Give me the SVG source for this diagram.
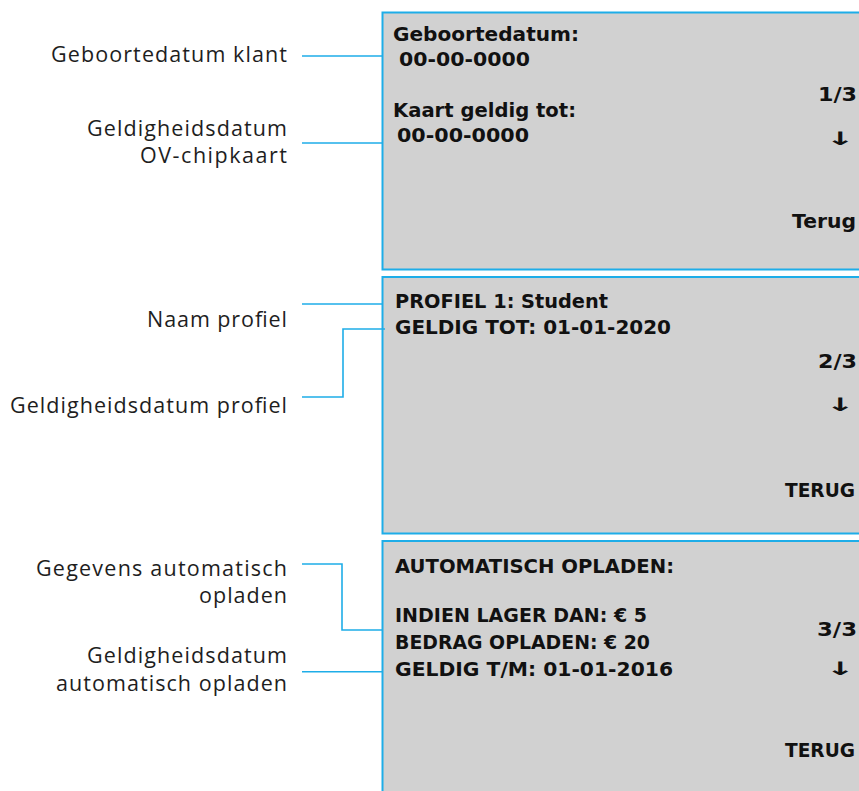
<svg xmlns="http://www.w3.org/2000/svg" width="859" height="791" viewBox="0 0 859 791">
<style>
.panel{fill:#d1d1d1;stroke:#1eade8;stroke-width:2}
.conn{fill:none;stroke:#1eade8;stroke-width:1.6}
.lbl{font-family:"Open Sans","Noto Sans",sans-serif;font-size:21.5px;fill:#1e1e1e;text-anchor:end}
.scr{font-family:"DejaVu Sans","Liberation Sans",sans-serif;font-weight:bold;font-size:20px;fill:#111}
.arr{font-family:"DejaVu Sans","Liberation Sans",sans-serif;font-weight:bold;font-size:23px;fill:#111;text-anchor:middle}
</style>
<rect width="859" height="791" fill="#ffffff"/>
<g id="panel1">
<rect class="panel" x="382.5" y="12.5" width="500" height="257"/>
<text class="scr" x="393" y="41" textLength="186" lengthAdjust="spacingAndGlyphs">Geboortedatum:</text>
<text class="scr" x="399" y="66" textLength="131" lengthAdjust="spacingAndGlyphs">00-00-0000</text>
<text class="scr" x="393" y="117" textLength="183" lengthAdjust="spacingAndGlyphs">Kaart geldig tot:</text>
<text class="scr" x="397" y="142" textLength="132" lengthAdjust="spacingAndGlyphs">00-00-0000</text>
<text class="scr" x="818" y="101" textLength="39" lengthAdjust="spacingAndGlyphs">1/3</text>
<text class="arr" transform="translate(840,145) scale(1.5,0.8)">↓</text>
<text class="scr" x="792" y="228" textLength="64" lengthAdjust="spacingAndGlyphs">Terug</text>
</g>
<g id="panel2">
<rect class="panel" x="382.5" y="277" width="500" height="256.5"/>
<text class="scr" x="395" y="308" textLength="213" lengthAdjust="spacingAndGlyphs">PROFIEL 1: Student</text>
<text class="scr" x="395" y="334" textLength="276" lengthAdjust="spacingAndGlyphs">GELDIG TOT: 01-01-2020</text>
<text class="scr" x="818" y="368" textLength="39" lengthAdjust="spacingAndGlyphs">2/3</text>
<text class="arr" transform="translate(840,411) scale(1.5,0.8)">↓</text>
<text class="scr" x="785" y="497" textLength="70" lengthAdjust="spacingAndGlyphs">TERUG</text>
</g>
<g id="panel3">
<rect class="panel" x="382.5" y="541" width="500" height="270"/>
<text class="scr" x="395" y="572.5" textLength="279" lengthAdjust="spacingAndGlyphs">AUTOMATISCH OPLADEN:</text>
<text class="scr" x="395" y="622" textLength="252" lengthAdjust="spacingAndGlyphs">INDIEN LAGER DAN: € 5</text>
<text class="scr" x="395" y="649" textLength="255" lengthAdjust="spacingAndGlyphs">BEDRAG OPLADEN: € 20</text>
<text class="scr" x="395" y="675.5" textLength="278" lengthAdjust="spacingAndGlyphs">GELDIG T/M: 01-01-2016</text>
<text class="scr" x="817" y="636" textLength="40" lengthAdjust="spacingAndGlyphs">3/3</text>
<text class="arr" transform="translate(840,675) scale(1.5,0.8)">↓</text>
<text class="scr" x="785" y="757" textLength="70" lengthAdjust="spacingAndGlyphs">TERUG</text>
</g>
<g id="label-geboortedatum">
<text class="lbl" x="287" y="62" textLength="236">Geboortedatum klant</text>
</g>
<g id="label-geldig-ov">
<text class="lbl" x="287" y="136" textLength="200">Geldigheidsdatum</text>
<text class="lbl" x="287" y="163" textLength="147">OV-chipkaart</text>
</g>
<g id="label-naam-profiel">
<text class="lbl" x="287" y="327" textLength="140">Naam profiel</text>
</g>
<g id="label-geldig-profiel">
<text class="lbl" x="287" y="413" textLength="277">Geldigheidsdatum profiel</text>
</g>
<g id="label-gegevens-opladen">
<text class="lbl" x="287" y="576" textLength="251">Gegevens automatisch</text>
<text class="lbl" x="287" y="603" textLength="88">opladen</text>
</g>
<g id="label-geldig-opladen">
<text class="lbl" x="287" y="663" textLength="200">Geldigheidsdatum</text>
<text class="lbl" x="287" y="691" textLength="231">automatisch opladen</text>
</g>
<g id="connectors">
<path class="conn" d="M302 56H382"/>
<path class="conn" d="M302 143H382"/>
<path class="conn" d="M302 304H382"/>
<path class="conn" d="M302 397H343V329H385"/>
<path class="conn" d="M302 564H342V630H382"/>
<path class="conn" d="M302 671.7H382"/>
</g>
</svg>
